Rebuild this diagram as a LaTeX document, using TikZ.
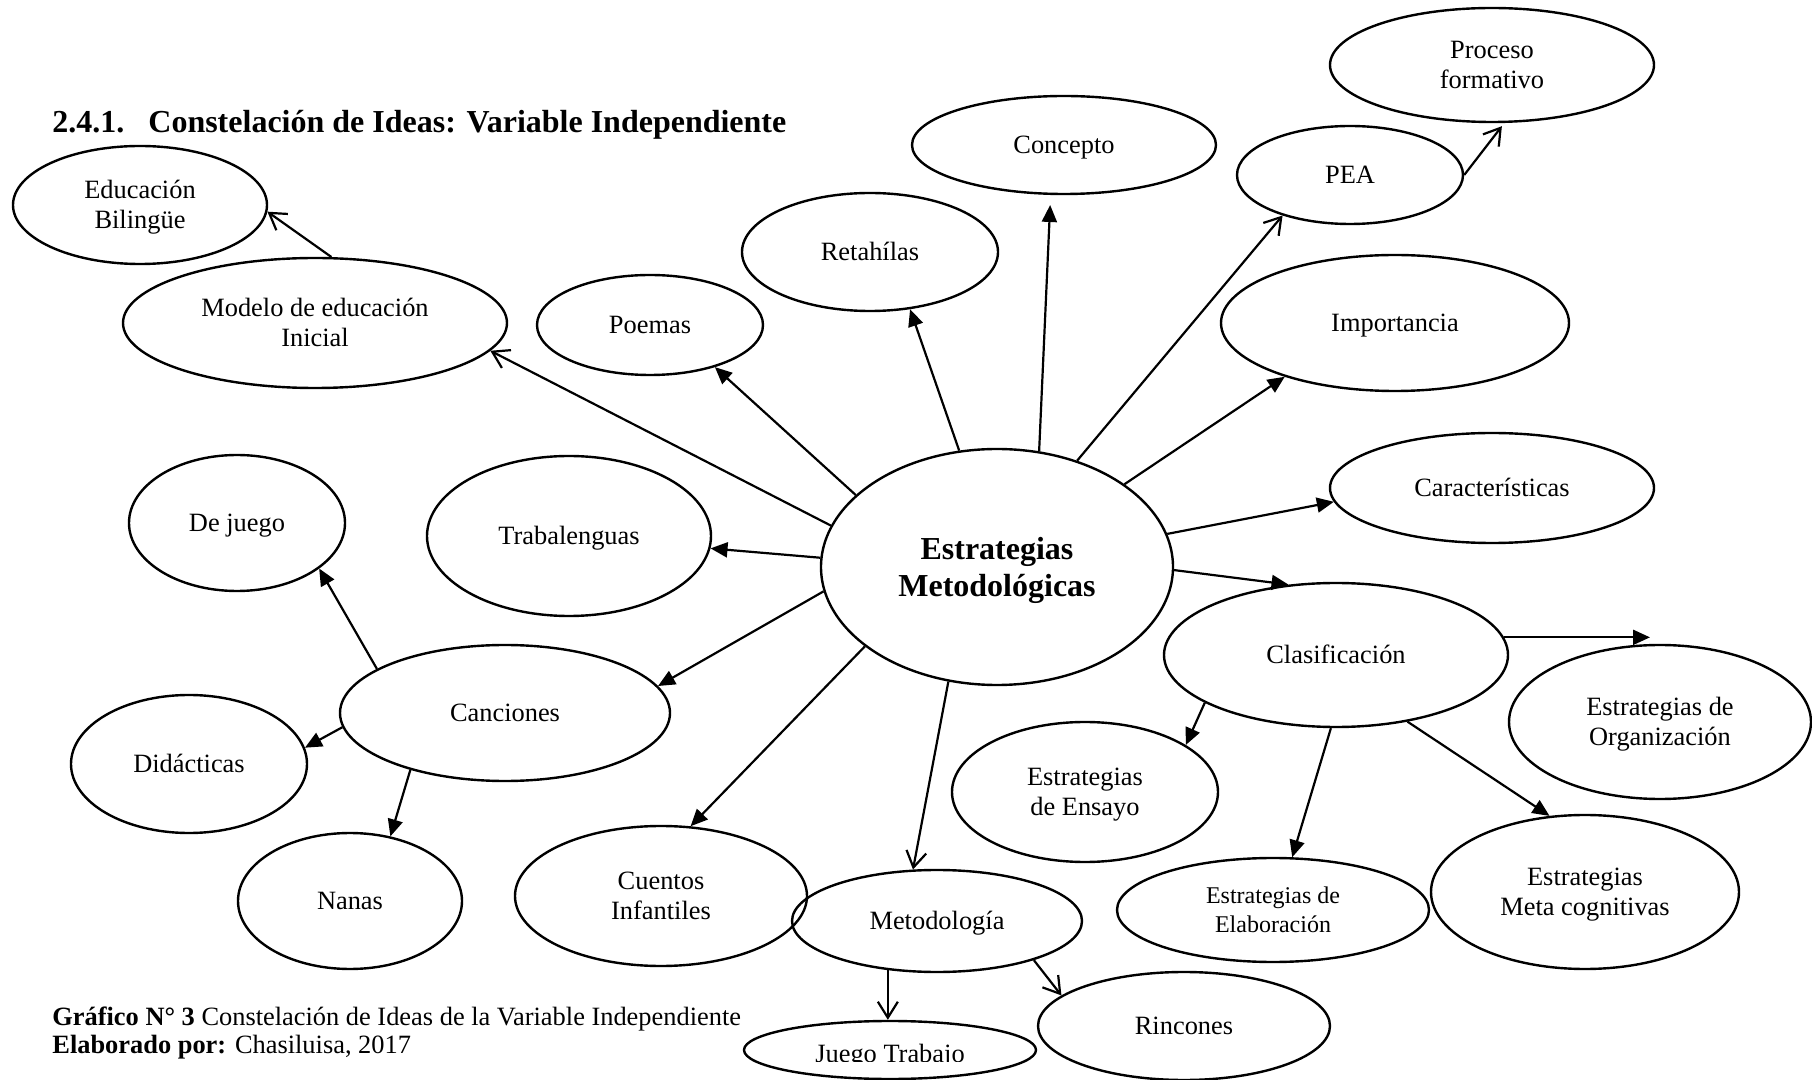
\documentclass[tikz,border=0pt]{standalone}
\usepackage{fontspec}
\setmainfont{Liberation Serif}
\usetikzlibrary{shapes.geometric,arrows.meta}
\newcommand\nodefont{\fontsize{13.2}{15}\selectfont}
\newcommand\ts{\rule[-0.216em]{0pt}{1.107em}}
\tikzset{
  ell/.style={draw, ellipse, line width=1.2pt, inner sep=0pt, align=center, font=\nodefont},
  fa/.style={-{Triangle[length=8.5pt,width=7.5pt]}, line width=1.1pt},
  oa/.style={-{Straight Barb[length=8pt,width=10pt,line width=1.1pt]}, line width=1.1pt},
}
\begin{document}
\begin{tikzpicture}[x=0.5pt,y=-0.5pt]
\fill[white] (0,0) rectangle (1812,1080);
\useasboundingbox (0,0) rectangle (1812,1080);

\node[anchor=base west, font=\fontsize{16}{19}\selectfont\bfseries, inner sep=0pt] (title) at (52,132.6)
  {2.4.1.\hspace{12pt}Constelación de Ideas: Variable Independiente};

\node[ell, minimum width=127pt, minimum height=59pt] (eb) at (140,205) {\ts Educación\\Bilingüe\ts};
\node[ell, minimum width=192pt, minimum height=65pt] (mod) at (315,323) {\ts Modelo de educación\\Inicial\ts};
\node[ell, minimum width=113pt, minimum height=50pt] (poe) at (650,325) {\ts Poemas};
\node[ell, minimum width=128pt, minimum height=59pt] (ret) at (870,252) {\ts Retahílas};
\node[ell, minimum width=152pt, minimum height=49pt] (con) at (1064,145) {\ts Concepto};
\node[ell, minimum width=162pt, minimum height=57pt] (pro) at (1492,65) {\ts Proceso\\formativo\ts};
\node[ell, minimum width=113pt, minimum height=49pt] (pea) at (1350,175) {\ts PEA};
\node[ell, minimum width=174pt, minimum height=68pt] (imp) at (1395,323) {\ts Importancia};
\node[ell, minimum width=162pt, minimum height=55pt] (car) at (1492,488) {\ts Características};
\node[ell, minimum width=176pt, minimum height=118pt, font=\fontsize{16}{18.5}\selectfont\bfseries] (est) at (997,567) {\ts Estrategias\\Metodológicas\ts};
\node[ell, minimum width=108pt, minimum height=68pt] (dj) at (237,523) {\ts De juego};
\node[ell, minimum width=142pt, minimum height=80pt] (tra) at (569,536) {\ts Trabalenguas};
\node[ell, minimum width=165pt, minimum height=68pt] (can) at (505,713) {\ts Canciones};
\node[ell, minimum width=118pt, minimum height=69pt] (did) at (189,764) {\ts Didácticas};
\node[ell, minimum width=112pt, minimum height=68pt] (nan) at (350,901) {\ts Nanas};
\node[ell, minimum width=146pt, minimum height=70pt] (cue) at (661,896) {\ts Cuentos\\Infantiles\ts};
\node[ell, minimum width=145pt, minimum height=51pt] (met) at (937,921) {\ts Metodología};
\node[ell, minimum width=146pt, minimum height=29pt] (jt) at (890,1050) {};
\begin{scope}
  \clip (700,1000) rectangle (1100,1061);
  \node[anchor=base, font=\nodefont, inner sep=0pt] (jtlabel) at (890,1062) {Juego Trabajo};
\end{scope}
\node[ell, minimum width=146pt, minimum height=54pt] (rin) at (1184,1026) {\ts Rincones};
\node[ell, minimum width=172pt, minimum height=72pt] (cla) at (1336,655) {\ts Clasificación};
\node[ell, minimum width=151pt, minimum height=77pt] (org) at (1660,722) {\ts Estrategias de\\Organización\ts};
\node[ell, minimum width=133pt, minimum height=70pt] (ens) at (1085,792) {\ts Estrategias\\de Ensayo\ts};
\node[ell, minimum width=156pt, minimum height=52pt, font=\fontsize{12}{13}\selectfont] (ela) at (1273,910) {\ts Estrategias de\\Elaboración\ts};
\node[ell, minimum width=154pt, minimum height=77pt] (mc) at (1585,892) {\ts Estrategias\\Meta cognitivas\ts};

\node[anchor=base west, font=\nodefont, inner sep=0pt] (cap1) at (52,1025)
  {\textbf{Gráfico N° 3} Constelación de Ideas de la Variable Independiente};
\node[anchor=base west, font=\nodefont, inner sep=0pt] (cap2) at (52,1053)
  {\textbf{Elaborado por:} Chasiluisa, 2017};

% connectors
\draw[oa] (est.166) -- (mod.-9);
\draw[oa] (mod.76) -- (eb.-3.5);
\draw[fa] (est.153) -- (poe.-33);
\draw[fa] (est.108) -- (ret.-55);
\draw[fa, shorten >=5pt] (est.70) -- (con.-105);
\draw[oa] (est.53) -- (pea.-149);
\draw[oa, shorten >=2pt] (pea.0) -- (pro.-78);
\draw[fa] (est.33) -- (imp.-154.5);
\draw[fa] (est.11) -- (car.185);
\draw[fa] (est.-1) -- (cla.124);
\draw[fa, shorten >=5pt] (cla.6) -- (cla.6 -| org.north);
\draw[fa] (cla.-160) -- (ens.25);
\draw[fa] (cla.-94) -- (ela.70);
\draw[fa] (cla.-43) -- (mc.115);
\draw[oa] (est.-113) -- (met.115);
\draw[fa] (est.177) -- (tra.-5.6);
\draw[fa] (est.188) -- (can.10);
\draw[fa] (est.-149) -- (cue.67);
\draw[fa] (can.161) -- (dj.-29);
\draw[fa] (can.-175) -- (did.8);
\draw[fa] (can.-149) -- (nan.58);
\draw[oa] (met.-135) -- (met.-135 |- jt.north);
\draw[oa] (met.-22) -- (rin.166);
\end{tikzpicture}
\end{document}
